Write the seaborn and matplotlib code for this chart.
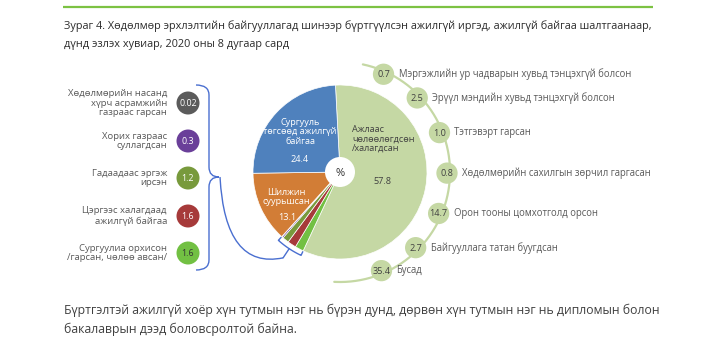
import numpy as np
import matplotlib
matplotlib.use("Agg")
import matplotlib.pyplot as plt
from matplotlib.path import Path
from matplotlib.patches import PathPatch, Circle
import seaborn as sns

# ---------------- data ----------------
title_lines = [
    "Зураг 4. Хөдөлмөр эрхлэлтийн байгууллагад шинээр бүртгүүлсэн ажилгүй иргэд, ажилгүй байгаа шалтгаанаар,",
    "дүнд эзлэх хувиар, 2020 оны 8 дугаар сард",
]
note_lines = [
    "Бүртгэлтэй ажилгүй хоёр хүн тутмын нэг нь бүрэн дунд, дөрвөн хүн тутмын нэг нь дипломын болон",
    "бакалаврын дээд боловсролтой байна.",
]

# main reasons: laid off, migrated, graduated without a job
main_labels = ["Ажлаас\nчөлөөлөгдсөн\n/халагдсан", "Шилжин\nсуурьшсан", "Сургууль\nтөгсөөд ажилгүй\nбайгаа"]
main_values = [57.8, 13.1, 24.4]

# small reasons (listed top to bottom on the left)
minor_labels = [
    "Хөдөлмөрийн насанд\nхүрч асрамжийн\nгазраас гарсан",
    "Хорих газраас\nсуллагдсан",
    "Гадаадаас эргэж\nирсэн",
    "Цэргээс халагдаад\nажилгүй байгаа",
    "Сургуулиа орхисон\n/гарсан, чөлөө авсан/",
]
minor_values = [0.02, 0.3, 1.2, 1.6, 1.6]

# breakdown of the "laid off" share
reason_labels = [
    "Мэргэжлийн ур чадварын хувьд тэнцэхгүй болсон",
    "Эрүүл мэндийн хувьд тэнцэхгүй болсон",
    "Тэтгэвэрт гарсан",
    "Хөдөлмөрийн сахилгын зөрчил гаргасан",
    "Орон тооны цомхотголд орсон",
    "Байгууллага татан буугдсан",
    "Бусад",
]
reason_values = [0.7, 2.5, 1.0, 0.8, 14.7, 2.7, 35.4]

# ---------------- style ----------------
sns.set_theme(style="white")
plt.rcParams["font.family"] = ["Open Sans", "DejaVu Sans"]

C_LIGHT = "#C5D8A4"
C_BLUE = "#4F81BD"
C_ORANGE = "#D27D36"
minor_colors = ["#5B5B5B", "#6A3F99", "#789A3C", "#A63A3A", "#72C043"]
minor_text = ["white", "white", "white", "white", "#333333"]
C_BRACE = "#4A6FD0"
TXT = "#595959"

def fmt(v):
    return f"{v:.2f}" if v < 0.1 else f"{v:.1f}"

W, H = 706, 341
fig = plt.figure(figsize=(W / 100, H / 100), dpi=100)
ax = fig.add_axes([0, 0, 1, 1])

# pie geometry (pixel space, y grows downward)
CX, CY, R = 340, 172, 87
A0 = -3  # clockwise angle from 12 o'clock where the first wedge starts

pie_values = [main_values[0]] + minor_values[::-1] + [main_values[1], main_values[2]]
pie_colors = [C_LIGHT] + minor_colors[::-1] + [C_ORANGE, C_BLUE]
wedges, _ = ax.pie(
    pie_values, colors=pie_colors, startangle=A0 - 90, counterclock=True,
    center=(CX, CY), radius=R, wedgeprops=dict(linewidth=0.5, edgecolor="white"),
)
ax.add_patch(Circle((CX, CY), 15, fc="white", ec="none", zorder=3))
ax.text(CX, CY + 1, "%", ha="center", va="center", fontsize=8, color="#333333", zorder=4)

def polar(a_deg, r):
    a = np.deg2rad(a_deg)
    return CX + r * np.sin(a), CY - r * np.cos(a)

# slice labels
FS = 6.6
ax.text(300, 132, main_labels[2], ha="center", va="center", fontsize=FS, color="white", linespacing=1.05)
ax.text(300, 159, fmt(main_values[2]), ha="center", va="center", fontsize=FS, color="white")
ax.text(286, 197, main_labels[1], ha="center", va="center", fontsize=FS, color="white", linespacing=1.05)
ax.text(287, 218, fmt(main_values[1]), ha="center", va="center", fontsize=FS, color="white")
ax.text(352, 139, main_labels[0], ha="left", va="center", fontsize=FS, color="#404040", linespacing=1.0)
ax.text(382, 182, fmt(main_values[0]), ha="center", va="center", fontsize=FS, color="#404040")

# arc carrying the breakdown of the laid-off share
arc_a = np.linspace(12, 183, 200)
ax.plot(*polar(arc_a, 110), color=C_LIGHT, lw=1.6, solid_capstyle="round", zorder=1)
ang = 24 + 22.2 * np.arange(len(reason_values))
rx, ry = polar(ang, 107)
sns.scatterplot(x=rx, y=ry, s=235, color=C_LIGHT, edgecolor="none", legend=False, ax=ax, zorder=3)
for x, y, v, lab in zip(rx, ry, reason_values, reason_labels):
    ax.text(x, y + 0.5, fmt(v), ha="center", va="center", fontsize=6.6, color="#404040", zorder=4)
    ax.text(x + 15, y, lab, ha="left", va="center", fontsize=6.85, color=TXT)

# left list of small reasons
ly = [103, 141, 178, 216, 253]
lx = [188] * len(ly)
sns.scatterplot(x=lx, y=ly, hue=minor_labels, palette=dict(zip(minor_labels, minor_colors)),
                s=274, edgecolor="none", legend=False, ax=ax, zorder=3)
for y, v, lab, tc in zip(ly, minor_values, minor_labels, minor_text):
    ax.text(188, y + 0.5, fmt(v), ha="center", va="center", fontsize=6.4, color=tc, zorder=4)
    ax.text(167, y, lab, ha="right", va="center", fontsize=6.8, color=TXT, linespacing=1.1)

# curly brace next to the list
bx, tip = 209, 219
top, mid, bot = 85, 177, 270
brace = Path(
    [(196, top), (bx, top), (bx, top + 10), (bx, mid - 10), (bx, mid), (tip, mid),
     (bx, mid), (bx, mid + 10), (bx, bot - 10), (bx, bot), (196, bot)],
    [Path.MOVETO, Path.CURVE3, Path.CURVE3, Path.LINETO, Path.CURVE3, Path.CURVE3,
     Path.CURVE3, Path.CURVE3, Path.LINETO, Path.CURVE3, Path.CURVE3],
)
ax.add_patch(PathPatch(brace, fc="none", ec=C_BRACE, lw=1.0))

# bracket around the small wedges and connector to the brace
a_start = wedges[1].theta1 + 90
a_end = wedges[5].theta2 + 90
b_a = np.linspace(a_start, a_end, 50)
bxs, bys = polar(b_a, 92)
hx0, hy0 = polar(a_start, 88)
hx1, hy1 = polar(a_end, 88)
ax.plot(np.r_[hx0, bxs, hx1], np.r_[hy0, bys, hy1], color=C_BRACE, lw=1.0)
a_mid = (a_start + a_end) / 2
sx0, sy0 = polar(a_mid, 92)
sx1, sy1 = polar(a_mid, 103)
ax.plot([sx0, sx1], [sy0, sy1], color=C_BRACE, lw=1.0)
conn = Path([(tip + 1, mid), (tip + 6, sy1 + 12), (sx1, sy1)], [Path.MOVETO, Path.CURVE3, Path.CURVE3])
ax.add_patch(PathPatch(conn, fc="none", ec=C_BRACE, lw=1.0))

# header rule, title and note
ax.plot([63, 653], [7, 7], color="#7CC242", lw=1.6, solid_capstyle="butt")
ax.text(64, 26, title_lines[0], ha="left", va="center", fontsize=7.85, color="#2b2b2b")
ax.text(64, 44, title_lines[1], ha="left", va="center", fontsize=7.85, color="#2b2b2b")
ax.text(64, 310, note_lines[0], ha="left", va="center", fontsize=8.8, color="#404040")
ax.text(64, 329, note_lines[1], ha="left", va="center", fontsize=8.8, color="#404040")

ax.set_xlim(0, W)
ax.set_ylim(H, 0)
ax.set_aspect("auto")
ax.axis("off")
fig.savefig("out.png", dpi=100, facecolor="white")
